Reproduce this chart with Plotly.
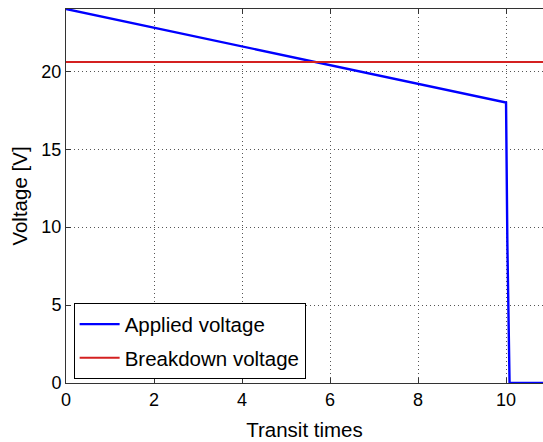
import plotly.graph_objects as go

# Applied voltage over transit times (linear decay, then collapse)
applied_t = [0, 10.0, 10.03, 10.08, 10.84]
applied_v = [24.0, 18.0, 9.0, 0.0, 0.0]

# Breakdown voltage level
breakdown_t = [0, 10.84]
breakdown_v = [20.6, 20.6]

x_ticks = [0, 2, 4, 6, 8, 10]
y_ticks = [0, 5, 10, 15, 20]

FAMILY = "Liberation Sans, Arial, sans-serif"

fig = go.Figure()
fig.add_trace(go.Scatter(x=applied_t, y=applied_v, mode="lines",
                         name="Applied voltage", legendgroup="a",
                         line=dict(color="#0000ff", width=2.4)))
fig.add_trace(go.Scatter(x=breakdown_t, y=breakdown_v, mode="lines",
                         name="Breakdown voltage", legendgroup="b",
                         line=dict(color="#d42020", width=2)))

tick_font = dict(family=FAMILY, size=18, color="black")
title_font = dict(family=FAMILY, size=20.5, color="black")

grid = dict(showgrid=True, gridcolor="#555", griddash="1px,3px", gridwidth=1)

fig.update_layout(
    width=543, height=442,
    margin=dict(l=66, r=0, t=9, b=59),
    plot_bgcolor="white", paper_bgcolor="white",
    font=tick_font,
    showlegend=True,
    legend=dict(x=0.016, y=0.213, xanchor="left", yanchor="top",
                bgcolor="white", bordercolor="black", borderwidth=1,
                font=dict(family=FAMILY, size=20.5, color="black"),
                tracegroupgap=4, itemwidth=40),
    xaxis=dict(range=[0, 10.84], tickvals=x_ticks, ticks="inside", ticklen=5,
               tickcolor="#333", showline=True, linecolor="#333", linewidth=1,
               mirror="ticks", zeroline=False, tickfont=tick_font,
               title=dict(text="Transit times", font=title_font, standoff=14),
               **grid),
    yaxis=dict(range=[0, 24], tickvals=y_ticks, ticks="inside", ticklen=5,
               tickcolor="#333", showline=True, linecolor="#333", linewidth=1,
               mirror=False, zeroline=False, tickfont=tick_font,
               title=dict(text="Voltage [V]", font=title_font, standoff=8),
               **grid),
)

fig.write_html("out.html")
